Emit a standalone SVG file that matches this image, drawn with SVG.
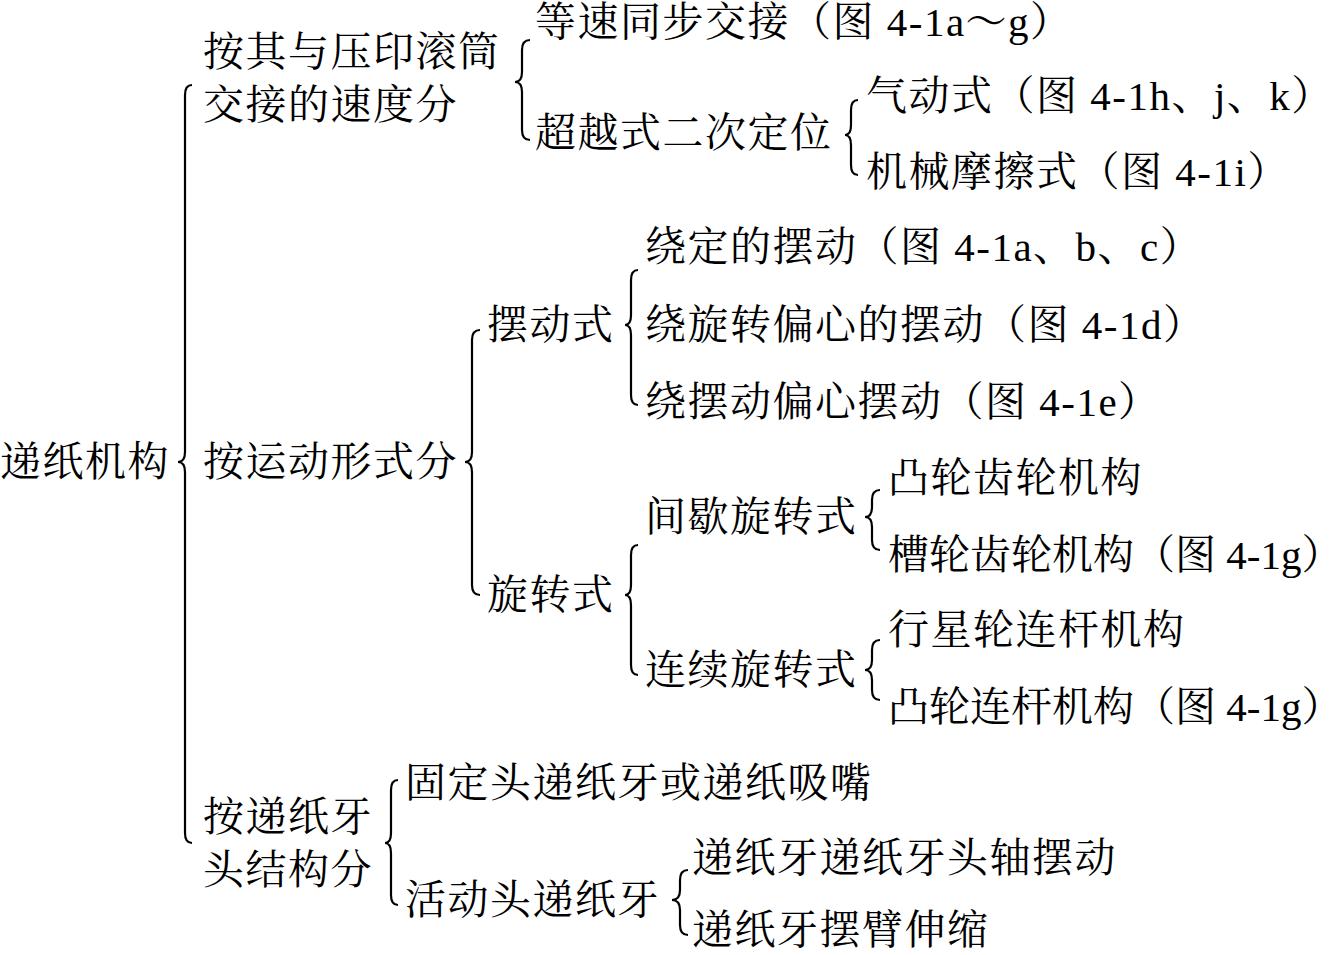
<svg xmlns="http://www.w3.org/2000/svg" width="1344" height="955" viewBox="0 0 1344 955">
<style>
text{font-family:"Liberation Serif","Noto Serif CJK SC","Noto Sans CJK SC",serif;font-size:41px;letter-spacing:1.5px;fill:#000;dominant-baseline:central}
text.tight{letter-spacing:0px}
path{fill:none;stroke:#000;stroke-width:2.2}
</style>
<rect width="1344" height="955" fill="#fff"/>
<g id="connectors">
<path d="M192 85 Q185 85 185 95 L185 452 Q185 462 178 462 Q185 462 185 472 L185 833 Q185 843 192 843"/>
<path d="M530 40 Q522 40 522 50 L522 72 Q522 82 515 82 Q522 82 522 92 L522 130 Q522 140 530 140"/>
<path d="M858 100 Q851 100 851 110 L851 125 Q851 135 845 135 Q851 135 851 145 L851 165 Q851 175 858 175"/>
<path d="M480 330 Q472 330 472 340 L472 452 Q472 462 465 462 Q472 462 472 472 L472 585 Q472 595 480 595"/>
<path d="M638 270 Q631 270 631 280 L631 315 Q631 325 625 325 Q631 325 631 335 L631 395 Q631 405 638 405"/>
<path d="M638 545 Q631 545 631 555 L631 585 Q631 595 625 595 Q631 595 631 605 L631 665 Q631 675 638 675"/>
<path d="M880 490 Q872 490 872 500 L872 507 Q872 517 865 517 Q872 517 872 527 L872 540 Q872 550 880 550"/>
<path d="M880 640 Q872 640 872 650 L872 660 Q872 670 865 670 Q872 670 872 680 L872 690 Q872 700 880 700"/>
<path d="M398 780 Q391 780 391 790 L391 833 Q391 843 385 843 Q391 843 391 853 L391 895 Q391 905 398 905"/>
<path d="M688 870 Q680 870 680 880 L680 890 Q680 900 672 900 Q680 900 680 910 L680 925 Q680 935 688 935"/>
</g>
<g id="root"><text x="0" y="462">递纸机构</text></g>
<g id="n1"><text x="203" y="52">按其与压印滚筒</text><text x="203" y="105">交接的速度分</text></g>
<g id="n11"><text x="535" y="22">等速同步交接（图 4-1a～g）</text></g>
<g id="n12"><text x="535" y="133">超越式二次定位</text></g>
<g id="n121"><text x="866" y="96">气动式（图 4-1h、j、k）</text></g>
<g id="n122"><text x="866" y="172">机械摩擦式（图 4-1i）</text></g>
<g id="n2"><text x="203" y="462">按运动形式分</text></g>
<g id="n21"><text x="487" y="325">摆动式</text></g>
<g id="n211"><text x="645" y="247">绕定的摆动（图 4-1a、b、c）</text></g>
<g id="n212"><text x="645" y="325">绕旋转偏心的摆动（图 4-1d）</text></g>
<g id="n213"><text x="645" y="402">绕摆动偏心摆动（图 4-1e）</text></g>
<g id="n22"><text x="487" y="595">旋转式</text></g>
<g id="n221"><text x="645" y="517">间歇旋转式</text></g>
<g id="n2211"><text x="888" y="478">凸轮齿轮机构</text></g>
<g id="n2212"><text class="tight" x="888" y="555">槽轮齿轮机构（图 4-1g）</text></g>
<g id="n222"><text x="645" y="670">连续旋转式</text></g>
<g id="n2221"><text x="888" y="630">行星轮连杆机构</text></g>
<g id="n2222"><text class="tight" x="888" y="707">凸轮连杆机构（图 4-1g）</text></g>
<g id="n3"><text x="203" y="817">按递纸牙</text><text x="203" y="870">头结构分</text></g>
<g id="n31"><text x="405" y="783">固定头递纸牙或递纸吸嘴</text></g>
<g id="n32"><text x="405" y="900">活动头递纸牙</text></g>
<g id="n321"><text x="692" y="858">递纸牙递纸牙头轴摆动</text></g>
<g id="n322"><text x="692" y="930">递纸牙摆臂伸缩</text></g>
</svg>
